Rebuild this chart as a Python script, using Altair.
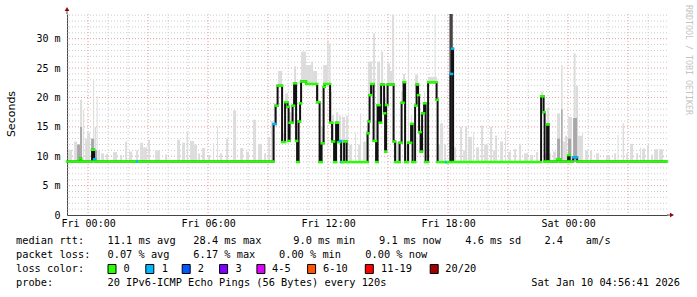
import altair as alt
import pandas as pd

# ---------------- data (time = minutes relative to Fri 00:00; window Thu 22:56:41 -> Sat 04:56:41)
T_START = -63.3
T_END = 1736.7
Y_MAX = 34.2

tick_values = [0, 360, 720, 1080, 1440]
tick_labels = ["Fri 00:00", "Fri 06:00", "Fri 12:00", "Fri 18:00", "Sat 00:00"]
y_ticks = [0, 5, 10, 15, 20, 25, 30]

# median rtt steps: (start minute, median ms, pings lost of 20)
median_early = [(-63.3, 9.1, 0), (-24, 9.6, 0), (-21, 9.1, 0), (12, 11.1, 0), (18, 9.5, 1),
                (21, 9.1, 0), (147, 9.1, 1), (153, 9.1, 0)]
median_day = [(556.5, 15.5, 1), (562.5, 18.6, 0), (568.5, 22.0, 0), (582, 12.4, 0), (591, 19.2, 0),
              (598.5, 18.4, 0), (601.5, 12.6, 0), (604.5, 15.7, 0), (613.5, 18.6, 0), (618, 22.4, 0),
              (624, 12.6, 0), (627, 9.0, 0), (631.5, 15.9, 0), (636, 19.0, 0), (639, 22.7, 0),
              (654, 22.3, 0), (687, 19.2, 0), (694.5, 9.0, 0), (700.5, 12.2, 0), (706.5, 21.8, 0),
              (709.5, 22.3, 0), (726, 15.7, 0), (732, 12.5, 0), (738, 9.0, 0), (744, 15.7, 0),
              (750, 12.4, 0), (756, 12.6, 1), (759, 9.0, 1), (762, 9.0, 0), (768, 12.5, 0),
              (775.5, 9.0, 0)]
median_afternoon = [(838.5, 13.9, 0), (841.5, 15.9, 0), (844.5, 20.4, 0), (849, 22.3, 0),
                    (856.5, 12.6, 0), (864, 9.0, 0), (868.5, 18.7, 0), (874.5, 15.7, 0), (879, 22.2, 0),
                    (888, 17.3, 0), (891, 10.8, 0), (894, 18.7, 0), (898.5, 22.2, 0), (916.5, 12.5, 0),
                    (921, 9.0, 0), (934.5, 12.3, 0), (940.5, 19.1, 0), (946.5, 22.6, 0), (951, 9.0, 0),
                    (960, 12.3, 0), (969, 15.5, 0), (973.5, 9.0, 0), (981, 18.6, 0), (985.5, 22.2, 0),
                    (990, 20.4, 0), (993, 14.1, 0), (997.5, 10.8, 0), (1002, 17.3, 0), (1008, 19.0, 0),
                    (1012.5, 9.0, 0), (1020, 22.6, 0), (1045.5, 19.6, 0), (1048.5, 9.0, 0)]
median_late = [(1074, 9.0, 1), (1078.5, 9.0, 0), (1087.5, 24.0, 1), (1092, 28.3, 1), (1095, 9.0, 0),
               (1359, 20.2, 0), (1366.5, 17.5, 0), (1369.5, 9.1, 0), (1377, 15.4, 0), (1381.5, 9.1, 0),
               (1407, 9.5, 0), (1416, 9.1, 0), (1440, 10.2, 0), (1444.5, 9.1, 0), (1455, 9.8, 1),
               (1467, 9.1, 0)]

# smoke (ping spread): (start minute, end minute, low ms, high ms)
smoke_early = [(-60, -48, 9, 11.1), (-42, -33, 9, 12.5), (-33, -27, 9, 11.5), (-24, -18, 9, 19.6),
               (-15, -12, 9, 17.9), (-9, -3, 9, 13.0), (-3, 6, 9, 14.0), (15, 18, 9, 23.0),
               (19.5, 24, 9, 15.0), (25.5, 28.5, 9, 20.2), (30, 36, 9, 11.0), (39, 48, 9, 10.5),
               (54, 60, 9, 10.4), (75, 87, 9, 10.7), (96, 102, 9, 10.2), (111, 117, 9, 12.5),
               (123, 132, 9, 10.8), (144, 150, 9, 11.0), (156, 165, 9, 12.3), (165, 177, 9, 11.5),
               (180, 186, 9, 12.8), (201, 216, 9, 11.0), (231, 237, 9, 10.3), (267, 276, 9, 12.8),
               (282, 291, 9, 12.3), (295.5, 300, 9, 14.2), (306, 318, 9, 12.6), (318, 327, 9, 12.0),
               (330, 336, 9, 10.5), (342, 351, 9, 11.4), (360, 366, 9, 10.2), (375, 378, 9, 12.2),
               (387, 390, 9, 15.0), (396, 402, 9, 10.5), (414, 420, 9, 13.0), (435, 444, 9, 17.8),
               (456, 465, 9, 11.4), (474, 483, 9, 10.8), (495, 504, 9, 16.2), (510, 522, 9, 12.1),
               (528, 534, 9, 10.5), (540, 546, 9, 13.3), (549, 555, 9, 16.0)]
smoke_day = [(558, 567, 15, 19), (570, 582, 22, 24.5), (585, 588, 12.4, 14), (591, 600, 18, 20.7),
             (603, 612, 15.7, 17.5), (618, 624, 22.4, 25.3), (624, 627, 12.6, 14), (639, 654, 22.7, 27.8),
             (654, 669, 22.3, 25.5), (669, 675, 22.3, 26.1), (675, 687, 22.3, 24.5), (687, 693, 19.2, 22),
             (699, 705, 12.2, 15), (705, 717, 22, 25.5), (717, 721.5, 22, 29.7), (723, 727.5, 22, 29.2),
             (726, 732, 15.7, 21), (732, 738, 12.5, 17), (744, 750, 15.7, 17.5), (753, 759, 12.4, 16.9),
             (762, 771, 9, 16.7), (774, 780, 9, 16.9), (783, 792, 9, 12), (801, 804, 9, 13.9),
             (810, 816, 9, 12), (816, 819, 9, 17.3), (825, 834, 9, 12.5), (834, 840, 9, 14.5),
             (840, 852, 20.4, 26.1), (855, 861, 22, 30.9), (861, 867, 12.6, 16), (867, 876, 18.7, 26.1),
             (879, 885, 22.2, 27.8), (888, 894, 17.3, 20), (897, 906, 22.2, 25.8), (906, 912, 22.2, 24.5),
             (912, 918, 22.2, 34.1), (921, 933, 9, 12.5), (939, 945, 19.1, 21), (945, 951, 22.6, 24),
             (954, 960, 9, 12), (960, 963, 12.3, 31.0), (969, 972, 15.5, 17), (981, 990, 22.2, 23.9),
             (996, 1002, 10.8, 15), (1008, 1011, 19, 21), (1020, 1047, 22.6, 23.5),
             (1039.5, 1042.5, 22.6, 34.1), (1050, 1056, 9, 12), (1056, 1065, 9, 15.6), (1068, 1074, 9, 12)]
smoke_late = [(1098, 1104, 9, 11.5), (1116, 1122, 9, 15.0), (1125, 1131, 9, 11), (1131, 1137, 9, 15.1),
              (1140, 1152, 9, 13.3), (1155, 1158, 9, 14.1), (1164, 1173, 9, 11.5), (1179, 1185, 9, 15.2),
              (1188, 1200, 9, 12), (1206, 1212, 9, 15.0), (1215, 1221, 9, 11), (1221, 1227, 9, 13.5),
              (1236, 1245, 9, 12.5), (1251, 1254, 9, 14.5), (1260, 1269, 9, 10.8), (1278, 1284, 9, 11.2),
              (1293, 1299, 9, 12), (1308, 1320, 9, 10.5), (1326, 1335, 9, 10.2), (1344, 1350, 9, 10.7),
              (1359, 1365, 20.2, 21), (1368, 1377, 9, 10.5), (1377, 1383, 15.4, 18.2), (1383, 1389, 9, 10.5),
              (1395, 1404, 9, 10.8), (1407, 1416, 9, 17.3), (1419, 1423.5, 9, 25.5), (1425, 1431, 9, 12.5),
              (1431, 1437, 9, 13.5), (1440, 1452, 9, 16.7), (1456.5, 1462.5, 9, 27.5), (1462.5, 1470, 9, 22),
              (1470, 1482, 9, 13.5), (1482, 1485, 9, 14.1), (1491, 1500, 9, 11), (1506, 1512, 9, 11),
              (1524, 1533, 9, 10.5), (1554, 1566, 9, 10.2), (1578, 1584, 9, 10.5), (1588.5, 1591.5, 9, 13.6),
              (1603.5, 1608, 9, 15.6), (1614, 1620, 9, 10.5), (1626, 1635, 9, 12.1), (1644, 1650, 9, 10.5),
              (1656, 1659, 9, 11.5), (1662, 1671, 9, 11.3), (1677, 1683, 9, 11.9), (1689, 1695, 9, 10.3),
              (1698, 1710, 9, 11.2), (1713, 1725, 9, 11.2)]
# denser inner smoke
smoke_core = [(-33, -24, 9, 12.0), (-24, -18, 9, 15.0), (9, 18, 9, 13.0), (21, 27, 9, 11.0),
              (1407, 1416, 9, 13.0), (1419, 1423.5, 9, 18.0), (1440, 1449, 9, 13.0), (1455, 1467, 9, 16.5)]
# interval where pings were spread over the whole range
smoke_full = [(1084, 1094, 9, 34.2)]

loss_labels = ["0", "1", "2", "3", "4-5", "6-10", "11-19", "20/20"]
loss_colors = ["#26ff00", "#00b8ff", "#0059ff", "#7e00ff", "#dd00ff", "#ff5500", "#ff0000", "#a10000"]
smoke_colors = {"light": "#dcdcdc", "mid": "#a8a8a8", "dark": "#454545"}

stats_rtt = ["median rtt:", "11.1 ms avg", "28.4 ms max", "9.0 ms min", "9.1 ms now", "4.6 ms sd", "2.4", "am/s"]
stats_loss = ["packet loss:", "0.07 % avg", "6.17 % max", "0.00 % min", "0.00 % now"]
probe_text = ["probe:", "20 IPv6-ICMP Echo Pings (56 Bytes) every 120s"]
stamp_text = "Sat Jan 10 04:56:41 2026"
watermark = "RRDTOOL / TOBI OETIKER"

# ---------------- tables
steps = median_early + median_day + median_afternoon + median_late
med_df = pd.DataFrame({
    "t0": [s[0] for s in steps],
    "t1": [s[0] for s in steps[1:]] + [T_END],
    "v": [s[1] for s in steps],
    "col": [loss_colors[s[2]] for s in steps],
})
line_df = pd.DataFrame({"t": [s[0] for s in steps] + [T_END], "v": [s[1] for s in steps] + [steps[-1][1]]})


def smoke_frame(rows, tier):
    return pd.DataFrame({"t0": [r[0] for r in rows], "t1": [r[1] for r in rows],
                         "lo": [r[2] for r in rows], "hi": [r[3] for r in rows],
                         "col": smoke_colors[tier]})


smoke_df = pd.concat([
    smoke_frame(smoke_early + smoke_day + smoke_late, "light"),
    smoke_frame(smoke_core, "mid"),
    smoke_frame(smoke_full, "dark"),
], ignore_index=True)

W, H = 600, 201
xs = alt.Scale(domain=[T_START, T_END], nice=False, zero=False)
ys = alt.Scale(domain=[0, Y_MAX], nice=False, zero=True)

label_expr = "[" + ",".join("'%s'" % s for s in tick_labels) + "][round(datum.value / 360)]"
xaxis = alt.Axis(values=tick_values, labelExpr=label_expr, grid=False, ticks=False,
                 domainColor="#444444", labelFont="DejaVu Sans Mono", labelFontSize=10,
                 labelColor="#000000", labelPadding=3, title=None)
yaxis = alt.Axis(values=y_ticks, labelExpr="datum.value == 0 ? '0' : datum.value + ' m'",
                 grid=False, ticks=False, domainColor="#444444", labelFont="DejaVu Sans Mono",
                 labelFontSize=10, labelColor="#000000", labelPadding=7,
                 title="Seconds", titleFont="DejaVu Sans", titleFontSize=11,
                 titleFontWeight="normal", titleColor="#000000", titleX=-56, titleY=99.5,
                 titleAngle=-90, titleAlign="center", titleBaseline="middle")

# grid
minor_x = [h for h in range(-60, 1737, 60) if h % 180 != 0]
major_x = [h for h in range(0, 1737, 180)]
minor_y = [v for v in range(1, 35) if v % 5 != 0]
major_y = [5, 10, 15, 20, 25, 30]

gx = alt.Chart(pd.DataFrame({"t": minor_x})).mark_rule(color="#cccccc", strokeDash=[1, 2], strokeWidth=1).encode(
    x=alt.X("t:Q", scale=xs, axis=xaxis))
gy = alt.Chart(pd.DataFrame({"v": minor_y})).mark_rule(color="#cccccc", strokeDash=[1, 2], strokeWidth=1).encode(
    y=alt.Y("v:Q", scale=ys, axis=yaxis))
gX = alt.Chart(pd.DataFrame({"t": major_x})).mark_rule(color="#e59a9a", strokeDash=[1, 2], strokeWidth=1).encode(
    x=alt.X("t:Q", scale=xs, axis=xaxis))
gY = alt.Chart(pd.DataFrame({"v": major_y})).mark_rule(color="#e59a9a", strokeDash=[1, 2], strokeWidth=1).encode(
    y=alt.Y("v:Q", scale=ys, axis=yaxis))

smoke = alt.Chart(smoke_df).mark_rect().encode(
    x=alt.X("t0:Q", scale=xs, axis=xaxis), x2="t1:Q",
    y=alt.Y("lo:Q", scale=ys, axis=yaxis), y2="hi:Q",
    fill=alt.Fill("col:N", scale=None),
)

mline = alt.Chart(line_df).mark_line(interpolate="step-after", color="#111111", strokeWidth=2).encode(
    x=alt.X("t:Q", scale=xs, axis=xaxis), y=alt.Y("v:Q", scale=ys, axis=yaxis))

msegs = alt.Chart(med_df).mark_rule(strokeWidth=2.5, strokeCap="square").encode(
    x=alt.X("t0:Q", scale=xs, axis=xaxis), x2="t1:Q",
    y=alt.Y("v:Q", scale=ys, axis=yaxis),
    stroke=alt.Stroke("col:N", scale=None),
)

one = pd.DataFrame({"a": [0]})
ext_y = alt.Chart(one).mark_rule(color="#444444").encode(x=alt.value(0), y=alt.value(-4), y2=alt.value(0))
ext_x = alt.Chart(one).mark_rule(color="#444444").encode(x=alt.value(600), x2=alt.value(604), y=alt.value(H))
arr_up = alt.Chart(one).mark_point(shape="triangle-up", filled=True, size=22, color="#9a0000", opacity=1).encode(
    x=alt.value(0), y=alt.value(-5))
arr_rt = alt.Chart(one).mark_point(shape="triangle-right", filled=True, size=22, color="#9a0000", opacity=1).encode(
    x=alt.value(605), y=alt.value(H))

wm = alt.Chart(one).mark_text(text=watermark, angle=90, align="left", baseline="middle",
                              font="DejaVu Sans Mono", fontSize=8.3, color="#c4c4c4").encode(
    x=alt.value(620.5), y=alt.value(-9))

# bottom legend text
txt_items = []
rtt_x = [-51, 40.5, 126.3, 226.3, 312, 398.3, 477.4, 518.8]
for s, x in zip(stats_rtt, rtt_x):
    txt_items.append({"s": s, "x": x, "y": 227})
loss_x = [-51, 40.5, 126.3, 212, 298.3]
for s, x in zip(stats_loss, loss_x):
    txt_items.append({"s": s, "x": x, "y": 241})
txt_items.append({"s": "loss color:", "x": -51, "y": 255})
lbl_x = [56.6, 94.8, 130.8, 168.6, 205, 256, 314, 378.3]
for s, x in zip(loss_labels, lbl_x):
    txt_items.append({"s": s, "x": x, "y": 255})
probe_x = [-51, 40.5]
for s, x in zip(probe_text, probe_x):
    txt_items.append({"s": s, "x": x, "y": 269})
txt_df = pd.DataFrame(txt_items)

legend_text = alt.Chart(txt_df).mark_text(align="left", baseline="middle", font="DejaVu Sans Mono",
                                          fontSize=10.3, color="#000000").encode(
    x=alt.X("x:Q", scale=None), y=alt.Y("y:Q", scale=None), text="s:N")
stamp = alt.Chart(one).mark_text(text=stamp_text, align="right", baseline="middle", font="DejaVu Sans Mono",
                                 fontSize=10.3, color="#000000").encode(x=alt.value(613), y=alt.value(269))

box_x = [41, 78.8, 115.2, 152.6, 189.9, 240.6, 298.3, 363.2]
box_df = pd.DataFrame({"x": box_x, "x2": [b + 8 for b in box_x], "col": loss_colors})
boxes = alt.Chart(box_df).mark_rect(stroke="#000000", strokeWidth=1).encode(
    x=alt.X("x:Q", scale=None), x2="x2:Q", y=alt.value(250.5), y2=alt.value(259.5),
    fill=alt.Fill("col:N", scale=None))

chart = alt.layer(
    gx, gy, gX, gY, smoke, mline, msegs, ext_y, ext_x, arr_up, arr_rt, wm, legend_text, stamp, boxes
).properties(
    width=W, height=H,
    autosize=alt.AutoSizeParams(type="none"),
    padding={"left": 67, "top": 14, "right": 30, "bottom": 82},
    background="#ffffff",
).configure_view(stroke=None)

chart.save("out.html", embed_options={"renderer": "svg", "actions": False})
